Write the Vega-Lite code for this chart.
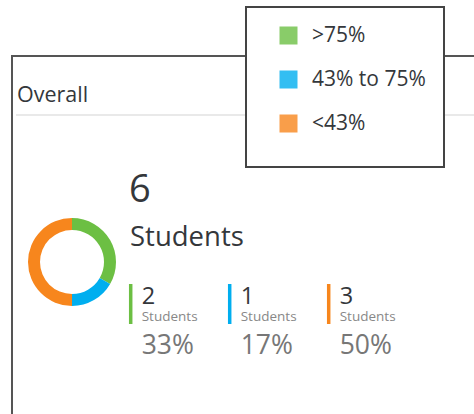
{
  "$schema": "https://vega.github.io/schema/vega-lite/v6.json",
  "width": 470,
  "height": 370,
  "autosize": {"type": "none"},
  "padding": {"left": 12, "top": 56, "right": -8, "bottom": -12},
  "background": "white",
  "config": {
    "font": "Open Sans",
    "view": {"stroke": "#555", "strokeWidth": 2},
    "legend": {"strokeWidth": 2}
  },
  "title": {
    "text": "Overall",
    "anchor": "start",
    "frame": "group",
    "fontSize": 21.5,
    "fontWeight": "normal",
    "color": "#34373b",
    "dx": 5,
    "offset": -46,
    "dy": 71,
    "baseline": "alphabetic"
  },
  "data": {
    "values": [
      {"band": ">75%", "idx": 1, "count": 2, "pct": 0.33},
      {"band": "43% to 75%", "idx": 2, "count": 1, "pct": 0.17},
      {"band": "<43%", "idx": 3, "count": 3, "pct": 0.5}
    ]
  },
  "layer": [
    {
      "mark": {"type": "rule", "color": "#e8e8e8", "strokeWidth": 1.5},
      "encoding": {"x": {"value": 4}, "x2": {"value": 470}, "y": {"value": 59}}
    },
    {
      "mark": {"type": "arc", "innerRadius": 32, "outerRadius": 44},
      "encoding": {
        "theta": {"field": "count", "type": "quantitative", "stack": true},
        "order": {"field": "idx", "type": "quantitative", "sort": "ascending"},
        "color": {
          "field": "band",
          "type": "nominal",
          "scale": {"domain": [">75%", "43% to 75%", "<43%"], "range": ["#6cbf43", "#00aeef", "#f7861d"]},
          "legend": {
            "orient": "none",
            "legendX": 234,
            "legendY": -49,
            "title": " ",
            "titleOrient": "bottom",
            "titleFontSize": 11,
            "titlePadding": 4,
            "fillColor": "white",
            "strokeColor": "#444",
            "padding": 18,
            "symbolOffset": 14,
            "symbolType": "square",
            "symbolSize": 324,
            "symbolStrokeWidth": 0,
            "symbolOpacity": 0.8,
            "labelFontSize": 21,
            "labelColor": "#34373b",
            "labelOffset": 13,
            "rowPadding": 22
          }
        },
        "x": {"value": 60},
        "y": {"value": 206}
      }
    },
    {
      "mark": {"type": "rule", "strokeWidth": 3.5},
      "encoding": {
        "x": {"field": "band", "type": "nominal", "sort": null, "axis": null, "scale": {"type": "point", "range": [118.7, 316.7], "padding": 0}},
        "y": {"value": 228},
        "y2": {"value": 268},
        "color": {"field": "band", "type": "nominal", "legend": null}
      }
    },
    {
      "mark": {"type": "text", "align": "left", "baseline": "alphabetic", "dx": 11, "fontSize": 23.5, "color": "#34373b"},
      "encoding": {
        "x": {"field": "band", "type": "nominal", "sort": null, "axis": null},
        "y": {"value": 247.5},
        "text": {"field": "count", "type": "quantitative"}
      }
    },
    {
      "mark": {"type": "text", "align": "left", "baseline": "alphabetic", "dx": 11, "fontSize": 13.5, "color": "#888"},
      "encoding": {
        "x": {"field": "band", "type": "nominal", "sort": null, "axis": null},
        "y": {"value": 265},
        "text": {"value": "Students"}
      }
    },
    {
      "mark": {"type": "text", "align": "left", "baseline": "alphabetic", "dx": 11, "fontSize": 26.5, "color": "#777"},
      "encoding": {
        "x": {"field": "band", "type": "nominal", "sort": null, "axis": null},
        "y": {"value": 298},
        "text": {"field": "pct", "type": "quantitative", "format": ".0%"}
      }
    },
    {
      "transform": [{"aggregate": [{"op": "sum", "field": "count", "as": "total"}]}],
      "mark": {"type": "text", "align": "left", "baseline": "alphabetic", "fontSize": 38, "color": "#34373b"},
      "encoding": {
        "x": {"value": 117},
        "y": {"value": 146},
        "text": {"field": "total", "type": "quantitative"}
      }
    },
    {
      "transform": [{"aggregate": [{"op": "sum", "field": "count", "as": "total"}]}],
      "mark": {"type": "text", "align": "left", "baseline": "alphabetic", "fontSize": 27.5, "color": "#34373b"},
      "encoding": {
        "x": {"value": 118},
        "y": {"value": 190},
        "text": {"value": "Students"}
      }
    }
  ]
}
